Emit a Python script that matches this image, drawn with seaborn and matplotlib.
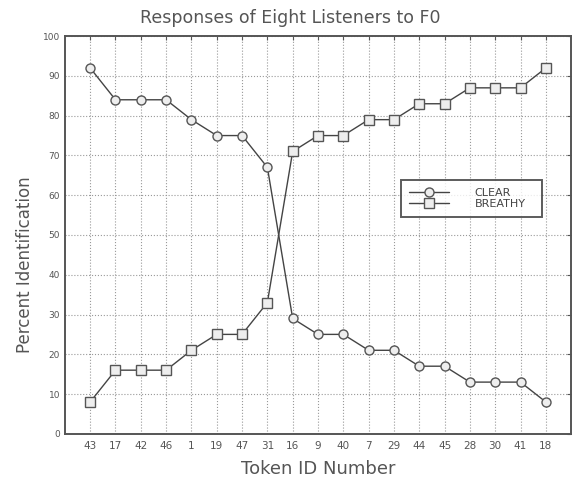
import matplotlib
matplotlib.use("Agg")
import matplotlib.pyplot as plt
import pandas as pd
import seaborn as sns

# Token order along the x axis
tokens = ['43', '17', '42', '46', '1', '19', '47', '31', '16', '9',
          '40', '7', '29', '44', '45', '28', '30', '41', '18']

# Percent identification
clear = [92, 84, 84, 84, 79, 75, 75, 67, 29, 25,
         25, 21, 21, 17, 17, 13, 13, 13, 8]
breathy = [8, 16, 16, 16, 21, 25, 25, 33, 71, 75,
           75, 79, 79, 83, 83, 87, 87, 87, 92]

df = pd.DataFrame({'pos': range(1, len(tokens) + 1), 'CLEAR': clear, 'BREATHY': breathy})
df_long = df.melt(id_vars='pos', var_name='response', value_name='pct')

sns.set_style('white')
plt.rcParams['font.family'] = ['DejaVu Sans']
grey = '#555555'

fig, ax = plt.subplots(figsize=(5.74, 4.82), dpi=100)
fig.subplots_adjust(left=0.113, right=0.995, top=0.925, bottom=0.1)

sns.lineplot(data=df_long, x='pos', y='pct', hue='response', style='response',
             markers={'CLEAR': 'o', 'BREATHY': 's'}, dashes=False,
             palette={'CLEAR': '#444444', 'BREATHY': '#444444'},
             markersize=6.5, markerfacecolor='#eeeeee', markeredgecolor='#555555',
             markeredgewidth=1, linewidth=1, ax=ax)

ax.set_xlim(0, 20)
ax.set_ylim(0, 100)
ax.set_xticks(range(1, len(tokens) + 1))
ax.set_xticklabels(tokens)
ax.set_yticks(range(0, 101, 10))
ax.tick_params(axis='both', labelsize=6.5, colors=grey, length=3, direction='in',
               top=True, right=True)
ax.tick_params(axis='x', labelsize=7.5, pad=5)
ax.grid(True, linestyle=':', color='#999999', linewidth=0.8)
for s in ax.spines.values():
    s.set_color('#555555')
    s.set_linewidth(1.4)

fig.suptitle('Responses of Eight Listeners to F0', fontsize=12.5, color=grey,
             x=0.505, y=1 - 18 / 482, va='center')
ax.set_xlabel('Token ID Number', fontsize=13, color=grey, labelpad=7)
ax.set_ylabel('Percent Identification', fontsize=12, color=grey)
ax.yaxis.set_label_coords(-0.06, 0.425)

leg = ax.legend(loc='lower left', bbox_to_anchor=(0.663, 0.545, 0.28, 0.09),
                mode='expand', fontsize=8,
                frameon=True, fancybox=False, edgecolor='#333333',
                handlelength=3.6, handletextpad=2.3, borderpad=0.75,
                labelspacing=0.05, borderaxespad=0)
leg.get_frame().set_linewidth(1.4)
for t in leg.get_texts():
    t.set_color('#444444')

fig.savefig('out.png', dpi=100)
